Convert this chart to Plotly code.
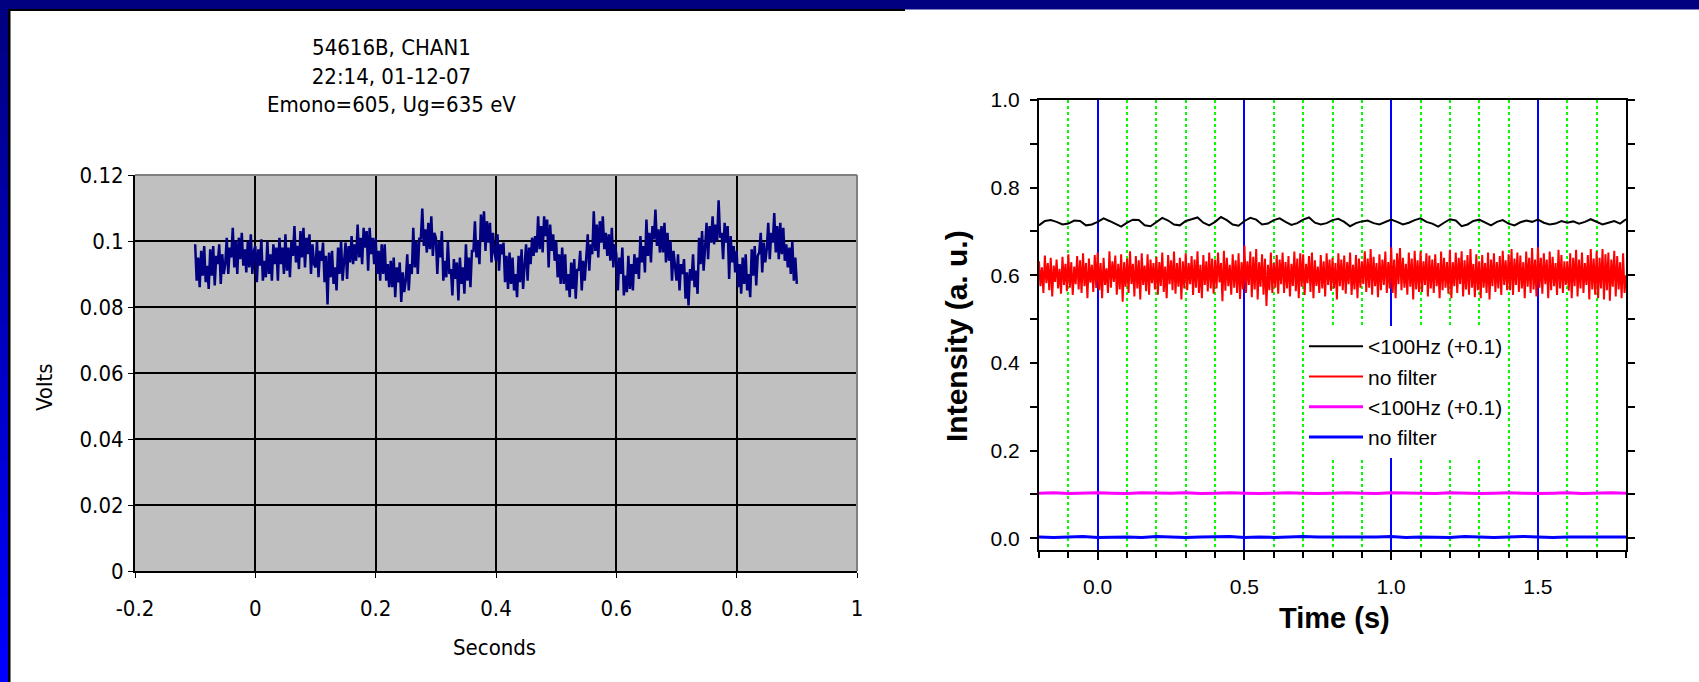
import plotly.graph_objects as go

# ---------------- Left chart: oscilloscope trace ----------------
scope_t_start = -0.1
scope_t_step = 0.0025
scope_volts = [
    0.0990, 0.0880, 0.0950, 0.0860, 0.0970, 0.0895, 0.0985, 0.0875, 0.0925, 0.0855,
    0.0975, 0.0895, 0.0985, 0.0865, 0.0955, 0.0930, 0.0990, 0.0870, 0.0960, 0.0900,
    0.0930, 0.1010, 0.0900, 0.0980, 0.0950, 0.1040, 0.0920, 0.1000, 0.0900, 0.1010,
    0.0945, 0.1025, 0.0925, 0.0975, 0.0905, 0.1000, 0.0920, 0.1020, 0.0900, 0.0970,
    0.0985, 0.0875, 0.0975, 0.0925, 0.1005, 0.0880, 0.0940, 0.0890, 0.1000, 0.0900,
    0.0960, 0.0880, 0.0990, 0.0930, 0.0980, 0.0880, 0.1010, 0.0930, 0.0980, 0.0900,
    0.1020, 0.0910, 0.0980, 0.0890, 0.1000, 0.0955, 0.1045, 0.0935, 0.0985, 0.0915,
    0.1030, 0.0950, 0.1040, 0.0920, 0.1010, 0.0960, 0.1020, 0.0900, 0.0990, 0.0930,
    0.0920, 0.1000, 0.0890, 0.0970, 0.0940, 0.0995, 0.0875, 0.0955, 0.0808, 0.0965,
    0.0890, 0.0970, 0.0870, 0.0920, 0.0850, 0.0980, 0.0900, 0.1000, 0.0880, 0.0950,
    0.0995, 0.0885, 0.0985, 0.0935, 0.1015, 0.0930, 0.0990, 0.0940, 0.1050, 0.0950,
    0.1010, 0.0930, 0.1040, 0.0980, 0.1030, 0.0910, 0.1040, 0.0960, 0.1010, 0.0930,
    0.1010, 0.0900, 0.0970, 0.0880, 0.0990, 0.0900, 0.0990, 0.0880, 0.0930, 0.0860,
    0.0940, 0.0860, 0.0950, 0.0830, 0.0920, 0.0875, 0.0935, 0.0815, 0.0905, 0.0845,
    0.0880, 0.0960, 0.0850, 0.0930, 0.0900, 0.1040, 0.0920, 0.1000, 0.0900, 0.1010,
    0.1005, 0.1098, 0.0985, 0.1035, 0.0965, 0.1055, 0.0975, 0.1075, 0.0955, 0.1025,
    0.1010, 0.0900, 0.1000, 0.0950, 0.1030, 0.0880, 0.0940, 0.0890, 0.1000, 0.0900,
    0.0915, 0.0835, 0.0945, 0.0885, 0.0935, 0.0820, 0.0950, 0.0870, 0.0920, 0.0840,
    0.0990, 0.0880, 0.0950, 0.0860, 0.0970, 0.0970, 0.1060, 0.0950, 0.1000, 0.0930,
    0.1080, 0.1000, 0.1090, 0.0970, 0.1060, 0.0995, 0.1055, 0.0935, 0.1025, 0.0965,
    0.0940, 0.1020, 0.0910, 0.0990, 0.0960, 0.0995, 0.0875, 0.0955, 0.0855, 0.0965,
    0.0870, 0.0950, 0.0850, 0.0900, 0.0830, 0.0955, 0.0875, 0.0975, 0.0855, 0.0925,
    0.0990, 0.0880, 0.0980, 0.0930, 0.1010, 0.0955, 0.1015, 0.0965, 0.1075, 0.0975,
    0.1045, 0.0965, 0.1075, 0.1015, 0.1065, 0.0920, 0.1050, 0.0970, 0.1020, 0.0940,
    0.1000, 0.0890, 0.0960, 0.0870, 0.0980, 0.0870, 0.0960, 0.0850, 0.0900, 0.0830,
    0.0935, 0.0855, 0.0945, 0.0825, 0.0915, 0.0910, 0.0970, 0.0850, 0.0940, 0.0880,
    0.0940, 0.1020, 0.0910, 0.0990, 0.0960, 0.1090, 0.0970, 0.1050, 0.0950, 0.1060,
    0.0995, 0.1075, 0.0975, 0.1025, 0.0955, 0.1020, 0.0940, 0.1040, 0.0920, 0.0990,
    0.0960, 0.0850, 0.0950, 0.0900, 0.0980, 0.0835, 0.0895, 0.0845, 0.0955, 0.0855,
    0.0930, 0.0850, 0.0960, 0.0900, 0.0950, 0.0885, 0.1015, 0.0935, 0.0985, 0.0905,
    0.1065, 0.0955, 0.1025, 0.0935, 0.1045, 0.1005, 0.1095, 0.0985, 0.1035, 0.0965,
    0.1045, 0.0965, 0.1055, 0.0935, 0.1025, 0.0940, 0.1000, 0.0880, 0.0970, 0.0910,
    0.0880, 0.0960, 0.0850, 0.0930, 0.0900, 0.0945, 0.0825, 0.0905, 0.0805, 0.0915,
    0.0880, 0.0960, 0.0860, 0.0910, 0.0840, 0.1010, 0.0930, 0.1030, 0.0910, 0.0980,
    0.1055, 0.0945, 0.1045, 0.0995, 0.1075, 0.0990, 0.1050, 0.1000, 0.1123, 0.1010,
    0.1025, 0.0945, 0.1055, 0.0995, 0.1045, 0.0885, 0.1015, 0.0935, 0.0985, 0.0905,
    0.0970, 0.0860, 0.0930, 0.0840, 0.0950, 0.0870, 0.0960, 0.0850, 0.0900, 0.0830,
    0.0975, 0.0895, 0.0985, 0.0865, 0.0955, 0.0965, 0.1025, 0.0905, 0.0995, 0.0935,
    0.0975, 0.1055, 0.0945, 0.1025, 0.0995, 0.1085, 0.0965, 0.1045, 0.0945, 0.1055,
    0.0960, 0.1040, 0.0940, 0.0990, 0.0920, 0.0980, 0.0900, 0.1000, 0.0880, 0.0950,
    0.0870,
]
left_xtick_vals = [-0.2, 0, 0.2, 0.4, 0.6, 0.8, 1]
left_xtick_text = ["-0.2", "0", "0.2", "0.4", "0.6", "0.8", "1"]
left_ytick_vals = [0, 0.02, 0.04, 0.06, 0.08, 0.1, 0.12]
left_ytick_text = ["0", "0.02", "0.04", "0.06", "0.08", "0.1", "0.12"]
left_title_lines = ["54616B, CHAN1", "22:14, 01-12-07", "Emono=605, Ug=635 eV"]

# ---------------- Right chart: intensity traces ----------------
black_t_start, black_t_step = -0.2, 0.02
black_lp_shifted = [
    0.714, 0.724, 0.726, 0.722, 0.716,
    0.718, 0.725, 0.724, 0.714, 0.716,
    0.722, 0.730, 0.724, 0.718, 0.711,
    0.720, 0.727, 0.726, 0.714, 0.712,
    0.722, 0.731, 0.725, 0.716, 0.714,
    0.724, 0.728, 0.732, 0.720, 0.714,
    0.722, 0.733, 0.726, 0.716, 0.713,
    0.724, 0.731, 0.727, 0.716, 0.718,
    0.726, 0.730, 0.722, 0.715, 0.719,
    0.727, 0.732, 0.720, 0.716, 0.719,
    0.726, 0.729, 0.722, 0.712, 0.719,
    0.723, 0.725, 0.719, 0.716, 0.722,
    0.727, 0.722, 0.716, 0.720, 0.726,
    0.730, 0.722, 0.718, 0.711, 0.720,
    0.728, 0.725, 0.712, 0.716, 0.724,
    0.727, 0.720, 0.714, 0.722, 0.726,
    0.718, 0.714, 0.721, 0.725, 0.722,
    0.727, 0.720, 0.716, 0.718, 0.724,
    0.720, 0.723, 0.718, 0.722, 0.728,
    0.722, 0.716, 0.720, 0.724, 0.718,
    0.728,
]
red_t_start, red_t_step = -0.2, 0.005
red_nofilter = [
    0.632, 0.575, 0.618, 0.560, 0.645, 0.582, 0.628, 0.566, 0.640, 0.552, 0.622, 0.585, 0.636, 0.570, 0.615, 0.558, 0.642, 0.578, 0.626, 0.564,
    0.648, 0.572, 0.630, 0.555, 0.620, 0.580, 0.644, 0.568, 0.634, 0.560, 0.650, 0.575, 0.628, 0.548, 0.638, 0.583, 0.624, 0.562, 0.646, 0.571,
    0.652, 0.566, 0.628, 0.548, 0.640, 0.578, 0.616, 0.560, 0.655, 0.572, 0.632, 0.585, 0.645, 0.556, 0.626, 0.568, 0.648, 0.540, 0.630, 0.574,
    0.638, 0.560, 0.655, 0.580, 0.626, 0.552, 0.644, 0.570, 0.634, 0.545, 0.650, 0.578, 0.622, 0.564, 0.648, 0.556, 0.636, 0.582, 0.628, 0.568,
    0.642, 0.556, 0.630, 0.576, 0.652, 0.562, 0.620, 0.548, 0.646, 0.580, 0.634, 0.566, 0.654, 0.558, 0.628, 0.574, 0.640, 0.545, 0.632, 0.570,
    0.650, 0.566, 0.628, 0.580, 0.644, 0.555, 0.636, 0.572, 0.655, 0.560, 0.624, 0.548, 0.646, 0.578, 0.632, 0.563, 0.652, 0.570, 0.638, 0.558,
    0.636, 0.570, 0.652, 0.584, 0.628, 0.541, 0.656, 0.565, 0.640, 0.575, 0.624, 0.556, 0.648, 0.572, 0.634, 0.560, 0.650, 0.546, 0.630, 0.568,
    0.668, 0.560, 0.632, 0.578, 0.654, 0.550, 0.642, 0.568, 0.660, 0.545, 0.630, 0.574, 0.648, 0.556, 0.638, 0.530, 0.624, 0.566, 0.652, 0.560,
    0.628, 0.572, 0.646, 0.558, 0.636, 0.580, 0.652, 0.560, 0.630, 0.570, 0.644, 0.552, 0.626, 0.576, 0.654, 0.564, 0.638, 0.548, 0.650, 0.574,
    0.648, 0.555, 0.626, 0.582, 0.644, 0.562, 0.652, 0.548, 0.634, 0.576, 0.620, 0.560, 0.646, 0.570, 0.632, 0.552, 0.650, 0.578, 0.636, 0.565,
    0.640, 0.570, 0.628, 0.545, 0.650, 0.575, 0.636, 0.566, 0.645, 0.558, 0.630, 0.580, 0.652, 0.555, 0.624, 0.568, 0.646, 0.548, 0.638, 0.572,
    0.632, 0.580, 0.655, 0.562, 0.638, 0.572, 0.660, 0.556, 0.642, 0.575, 0.628, 0.550, 0.648, 0.566, 0.636, 0.578, 0.654, 0.560, 0.630, 0.570,
    0.664, 0.560, 0.636, 0.548, 0.650, 0.580, 0.662, 0.566, 0.640, 0.572, 0.626, 0.556, 0.652, 0.574, 0.638, 0.545, 0.656, 0.568, 0.634, 0.562,
    0.655, 0.562, 0.632, 0.578, 0.650, 0.552, 0.645, 0.570, 0.636, 0.560, 0.648, 0.575, 0.628, 0.548, 0.654, 0.566, 0.640, 0.572, 0.630, 0.558,
    0.658, 0.548, 0.630, 0.575, 0.652, 0.560, 0.640, 0.580, 0.655, 0.552, 0.634, 0.568, 0.646, 0.556, 0.660, 0.572, 0.626, 0.550, 0.648, 0.566,
    0.632, 0.548, 0.646, 0.572, 0.628, 0.560, 0.652, 0.545, 0.636, 0.575, 0.650, 0.562, 0.630, 0.570, 0.644, 0.555, 0.656, 0.578, 0.634, 0.566,
    0.648, 0.566, 0.660, 0.555, 0.638, 0.578, 0.652, 0.562, 0.645, 0.570, 0.630, 0.548, 0.654, 0.574, 0.640, 0.560, 0.662, 0.568, 0.636, 0.552,
    0.664, 0.572, 0.640, 0.558, 0.650, 0.580, 0.636, 0.548, 0.654, 0.566, 0.642, 0.575, 0.628, 0.555, 0.658, 0.570, 0.646, 0.560, 0.632, 0.578,
    0.632, 0.565, 0.650, 0.548, 0.640, 0.575, 0.658, 0.552, 0.636, 0.570, 0.652, 0.560, 0.628, 0.578, 0.646, 0.545, 0.660, 0.568, 0.638, 0.556,
    0.655, 0.548, 0.640, 0.570, 0.660, 0.545, 0.648, 0.566, 0.652, 0.542, 0.636, 0.574, 0.656, 0.552, 0.644, 0.568, 0.630, 0.548, 0.650, 0.560,
    0.600,
]
flat_t_start, flat_t_step = -0.2, 0.05
magenta_lp_shifted = [
    0.103, 0.104, 0.102, 0.103, 0.104, 0.103, 0.102, 0.104, 0.103, 0.103,
    0.104, 0.102, 0.103, 0.104, 0.103, 0.102, 0.103, 0.104, 0.103, 0.102,
    0.103, 0.104, 0.103, 0.102, 0.104, 0.103, 0.103, 0.102, 0.104, 0.103,
    0.102, 0.103, 0.104, 0.103, 0.102, 0.103, 0.104, 0.102, 0.103, 0.104,
    0.103,
]
blue_nofilter = [
    0.003, 0.002, 0.003, 0.004, 0.002, 0.003, 0.003, 0.002, 0.004, 0.003,
    0.002, 0.003, 0.003, 0.004, 0.002, 0.003, 0.002, 0.003, 0.004, 0.003,
    0.003, 0.002, 0.003, 0.003, 0.004, 0.002, 0.003, 0.003, 0.002, 0.004,
    0.003, 0.002, 0.003, 0.004, 0.003, 0.002, 0.003, 0.003, 0.002, 0.003,
    0.003,
]
series_names = ["<100Hz (+0.1)", "no filter", "<100Hz (+0.1)", "no filter"]


def times(start, step, n):
    return [round(start + i * step, 5) for i in range(n)]


W, H = 1699, 682
NARROW = "Liberation Sans Narrow, Arial Narrow, DejaVu Sans Condensed, sans-serif"
ARIAL = "Liberation Sans, Arial, Helvetica, sans-serif"


def fx(p):
    return p / W


def fy(p):
    return 1 - p / H


fig = go.Figure()

fig.add_trace(go.Scatter(
    x=times(scope_t_start, scope_t_step, len(scope_volts)), y=scope_volts,
    mode="lines", line=dict(color="#000080", width=2.5), showlegend=False,
    xaxis="x", yaxis="y", hoverinfo="skip"))

right_series = [
    (black_t_start, black_t_step, black_lp_shifted, "#000000", 2),
    (red_t_start, red_t_step, red_nofilter, "#FF0000", 2),
    (flat_t_start, flat_t_step, magenta_lp_shifted, "#FF00FF", 3),
    (flat_t_start, flat_t_step, blue_nofilter, "#0000FF", 3),
]
for (t0, dt, vals, col, w), name in zip(right_series, series_names):
    fig.add_trace(go.Scatter(
        x=times(t0, dt, len(vals)), y=vals, mode="lines", name=name,
        line=dict(color=col, width=w), xaxis="x2", yaxis="y2"))

# decorative frame (slide border): vertical gradient stripe on the left
shapes = []
n_steps = 40
for i in range(n_steps):
    f = i / (n_steps - 1)
    b = int(round(0x80 + (0xFF - 0x80) * f))
    top = H * i / n_steps
    bot = min(H, H * (i + 1) / n_steps + 2)
    shapes.append(dict(type="rect", xref="paper", yref="paper", layer="above",
                       x0=fx(0), x1=fx(8), y0=fy(bot), y1=fy(top),
                       line=dict(width=0), fillcolor=f"rgb(0,0,{b})"))
shapes += [
    dict(type="rect", xref="paper", yref="paper", layer="above",
         x0=0, x1=1, y0=fy(9.5), y1=1, line=dict(width=0), fillcolor="#000080"),
    dict(type="rect", xref="paper", yref="paper", layer="above",
         x0=fx(8), x1=fx(905), y0=fy(11), y1=fy(9), line=dict(width=0), fillcolor="#000000"),
    dict(type="rect", xref="paper", yref="paper", layer="above",
         x0=fx(8), x1=fx(10.5), y0=0, y1=fy(9), line=dict(width=0), fillcolor="#000000"),
    # left chart plot-area background and grey frame
    dict(type="rect", xref="x domain", yref="y domain", layer="below",
         x0=0, x1=1, y0=0, y1=1, line=dict(width=0), fillcolor="#C0C0C0"),
    dict(type="line", xref="x domain", yref="y domain", layer="above",
         x0=0, x1=1, y0=1, y1=1, line=dict(color="#808080", width=2)),
    dict(type="line", xref="x domain", yref="y domain", layer="above",
         x0=1, x1=1, y0=0, y1=1, line=dict(color="#808080", width=2)),
]

annotations = [
    dict(text="<br>".join(left_title_lines), xref="paper", yref="paper",
         x=fx(391), y=fy(76), xanchor="center", yanchor="middle", showarrow=False,
         font=dict(family=NARROW, size=22, color="black")),
    dict(text="Volts", xref="paper", yref="paper", x=fx(44), y=fy(387),
         xanchor="center", yanchor="middle", textangle=-90, showarrow=False,
         font=dict(family=NARROW, size=22, color="black")),
    dict(text="Seconds", xref="paper", yref="paper", x=fx(495), y=fy(647),
         xanchor="center", yanchor="middle", showarrow=False,
         font=dict(family=NARROW, size=22, color="black")),
    dict(text="Intensity (a. u.)", xref="paper", yref="paper", x=fx(956), y=fy(336),
         xanchor="center", yanchor="middle", textangle=-90, showarrow=False,
         font=dict(family=ARIAL, size=30, color="black", weight="bold")),
    dict(text="Time (s)", xref="paper", yref="paper", x=fx(1334), y=fy(618),
         xanchor="center", yanchor="middle", showarrow=False,
         font=dict(family=ARIAL, size=29, color="black", weight="bold")),
]

fig.update_layout(
    width=W, height=H, margin=dict(l=0, r=0, t=0, b=0, pad=0, autoexpand=False),
    paper_bgcolor="white", plot_bgcolor="rgba(0,0,0,0)",
    showlegend=True,
    shapes=shapes, annotations=annotations,
    xaxis=dict(domain=[fx(135), fx(857)], range=[-0.2, 1], anchor="y", automargin=False,
               tickmode="array", tickvals=left_xtick_vals, ticktext=left_xtick_text,
               showgrid=True, gridcolor="black", gridwidth=1.5, zeroline=False,
               showline=True, linecolor="black", linewidth=2,
               ticks="outside", ticklen=5, tickcolor="black", ticklabelstandoff=12,
               tickfont=dict(family=NARROW, size=22, color="black")),
    yaxis=dict(domain=[fy(571), fy(175)], range=[0, 0.12], anchor="x", automargin=False,
               tickmode="array", tickvals=left_ytick_vals, ticktext=left_ytick_text,
               showgrid=True, gridcolor="black", gridwidth=1.5, zeroline=False,
               showline=True, linecolor="black", linewidth=2,
               ticks="outside", ticklen=5, tickcolor="black",
               tickfont=dict(family=NARROW, size=22, color="black")),
    xaxis2=dict(domain=[fx(1039), fx(1626)], range=[-0.2, 1.8], anchor="y2", automargin=False,
                tick0=0, dtick=0.5, tickformat=".1f",
                showgrid=True, gridcolor="#0000FF", gridwidth=1.5, zeroline=False,
                minor=dict(tick0=0, dtick=0.1, showgrid=True, gridcolor="#00FF00",
                           gridwidth=2, griddash="dot", ticks="outside", ticklen=6,
                           tickcolor="black", tickwidth=2),
                showline=True, mirror=True, linecolor="black", linewidth=2,
                ticks="outside", ticklen=8, tickwidth=2, tickcolor="black",
                ticklabelstandoff=8,
                tickfont=dict(family=ARIAL, size=21, color="black")),
    yaxis2=dict(domain=[fy(550.3), fy(100)], range=[-0.0274, 1.0], anchor="x2", automargin=False,
                tick0=0, dtick=0.2, tickformat=".1f",
                showgrid=False, zeroline=False,
                minor=dict(tick0=0, dtick=0.1, ticks="outside", ticklen=7,
                           tickcolor="black", tickwidth=2),
                showline=True, mirror="ticks", linecolor="black", linewidth=2,
                ticks="outside", ticklen=7, tickwidth=2, tickcolor="black",
                ticklabelstandoff=6,
                tickfont=dict(family=ARIAL, size=21, color="black")),
    legend=dict(x=fx(1304), y=fy(326), xanchor="left", yanchor="top",
                bgcolor="white", borderwidth=0, itemwidth=54, tracegroupgap=0,
                font=dict(family=ARIAL, size=21, color="black")),
)

fig.write_html("out.html", config={"displayModeBar": False},
               post_script="document.body.style.margin='0px';")
